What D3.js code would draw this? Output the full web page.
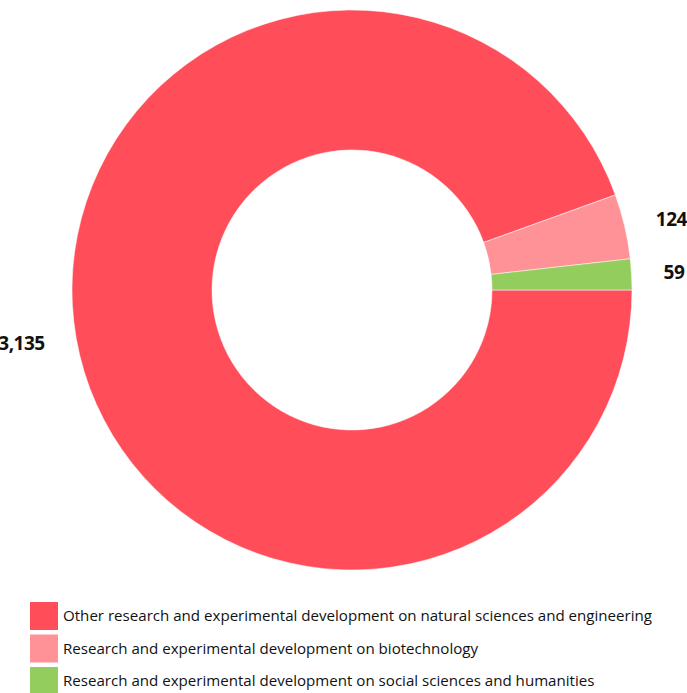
<!DOCTYPE html>
<html><head><meta charset="utf-8">
<script src="https://cdn.jsdelivr.net/npm/d3@7"></script>
<style>body{margin:0;background:#fff;} svg{display:block;}</style>
</head><body>
<svg id="c" width="687" height="693"></svg>
<script>
const categories = [
  "Other research and experimental development on natural sciences and engineering",
  "Research and experimental development on biotechnology",
  "Research and experimental development on social sciences and humanities"
];
const values = [3135, 124, 59];
const labels = ["3,135", "124", "59"];
const colors = ["#ff4d5a", "#ff9297", "#93cd5e"];

const svg = d3.select("#c");
const cx = 352, cy = 290, R = 280, r = 140;
const g = svg.append("g").attr("transform", `translate(${cx},${cy})`);
const pie = d3.pie().sort(null).startAngle(Math.PI/2).endAngle(Math.PI/2 + 2*Math.PI);
const arcs = pie(values);
const arc = d3.arc().innerRadius(r).outerRadius(R);
g.selectAll("path").data(arcs).enter().append("path")
  .attr("d", arc).attr("fill", (d,i)=>colors[i]).attr("stroke","#fff").attr("stroke-width",0.5);
const labelArc = d3.arc().innerRadius(312).outerRadius(312);
g.selectAll("text").data(arcs).enter().append("text")
  .attr("transform", d => { const c = labelArc.centroid(d); return `translate(${c[0]},${c[1]})`; })
  .attr("text-anchor", d => ((d.startAngle+d.endAngle)/2 % (2*Math.PI)) > Math.PI ? "end" : "start")
  .attr("dy", "0.35em")
  .style("font-family", "'Open Sans', sans-serif").style("font-weight", "bold").style("font-size", "19px")
  .style("letter-spacing", "-0.5px")
  .attr("fill", "#111")
  .text((d,i)=>labels[i]);

const leg = svg.append("g").attr("transform", "translate(30,602)");
const items = leg.selectAll("g").data(categories).enter().append("g")
  .attr("transform", (d,i)=>`translate(0,${i*32.5})`);
items.append("rect").attr("width", 28).attr("height", 28).attr("fill", (d,i)=>colors[i]);
items.append("text").attr("x", 33).attr("y", 14).attr("dy","0.35em")
  .style("font-family", "'Open Sans', sans-serif").style("font-size", "15.1px").attr("fill", "#111")
  .text(d=>d);
</script>
</body></html>
